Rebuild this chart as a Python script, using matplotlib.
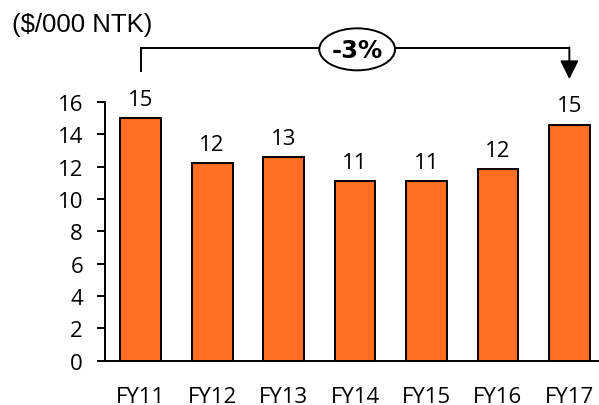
import matplotlib
matplotlib.use("Agg")
import matplotlib.pyplot as plt
from matplotlib.patches import Ellipse

# cost per thousand net tonne-km, by financial year
years = ["FY11", "FY12", "FY13", "FY14", "FY15", "FY16", "FY17"]
cost = [15.0, 12.2, 12.6, 11.1, 11.1, 11.85, 14.6]
change_label = "-3%"

bar_color = "#FD6E23"
tick_font = "Open Sans"

fig = plt.figure(figsize=(5.99, 4.06), dpi=100)
ax = fig.add_axes([0.1753, 0.1096, 0.8247, 0.6367])

x = range(len(years))
bars = ax.bar(x, cost, width=0.57, color=bar_color, edgecolor="black", linewidth=1.4, zorder=2)

for xi, v in zip(x, cost):
    ax.annotate(f"{v:.0f}", (xi, v), xytext=(0, 6), textcoords="offset points",
                ha="center", va="bottom", fontsize=16, family=tick_font)

ax.set_xlim(-0.5, 6.415)
ax.set_ylim(0, 16)
ax.set_yticks(range(0, 17, 2))
ax.set_xticks(list(x))
ax.set_xticklabels(years)

for side in ("top", "right"):
    ax.spines[side].set_visible(False)
for side in ("left", "bottom"):
    ax.spines[side].set_linewidth(1.4)

ax.tick_params(axis="y", direction="out", length=5.8, width=1.4, pad=10, labelsize=16)
ax.tick_params(axis="x", length=0, pad=18, labelsize=16)
for lbl in ax.get_xticklabels() + ax.get_yticklabels():
    lbl.set_family(tick_font)

# bracket from first to last year with the change in the middle
y_line = 19.33
ax.plot([0, 0, 6], [17.88, y_line, y_line], color="black", lw=1.4, clip_on=False,
        solid_capstyle="butt", solid_joinstyle="miter")
ax.annotate("", xy=(6, 17.42), xytext=(6, y_line + 0.045),
            arrowprops=dict(arrowstyle="-|>,head_length=0.4,head_width=0.2",
                            mutation_scale=28, lw=1.4, color="black",
                            shrinkA=0, shrinkB=0),
            annotation_clip=False)
ax.add_patch(Ellipse((3.03, 19.26), 1.06, 2.6, facecolor="white", edgecolor="black",
                     lw=1.4, clip_on=False, zorder=5))
ax.text(3.03, 19.24, change_label, ha="center", va="center", fontsize=17.5,
        fontweight="bold", family="DejaVu Sans", zorder=6, clip_on=False)

fig.text(0.02, 0.938, "($/000 NTK)", ha="left", va="center", fontsize=18.5,
         family="Liberation Sans")

fig.savefig("out.png", dpi=100)
